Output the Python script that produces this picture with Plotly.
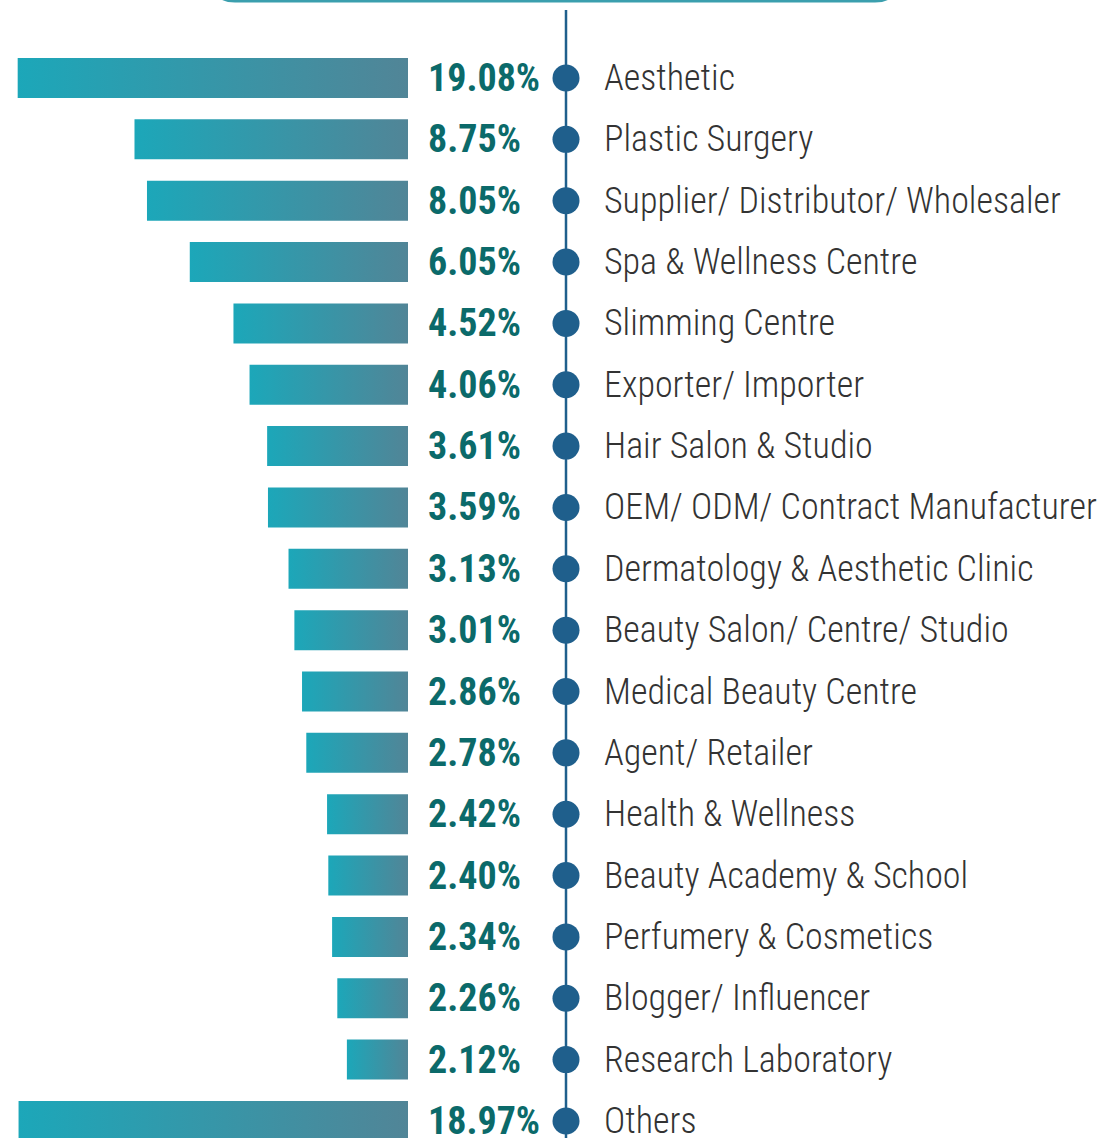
import math
import plotly.graph_objects as go

categories = [
    "Aesthetic", "Plastic Surgery", "Supplier/ Distributor/ Wholesaler",
    "Spa & Wellness Centre", "Slimming Centre", "Exporter/ Importer",
    "Hair Salon & Studio", "OEM/ ODM/ Contract Manufacturer",
    "Dermatology & Aesthetic Clinic", "Beauty Salon/ Centre/ Studio",
    "Medical Beauty Centre", "Agent/ Retailer", "Health & Wellness",
    "Beauty Academy & School", "Perfumery & Cosmetics",
    "Blogger/ Influencer", "Research Laboratory", "Others",
]
shares = [19.08, 8.75, 8.05, 6.05, 4.52, 4.06, 3.61, 3.59, 3.13, 3.01,
          2.86, 2.78, 2.42, 2.40, 2.34, 2.26, 2.12, 18.97]

W, H = 1110, 1138
BASE = 1.41            # log-axis origin of the bars
ROW_PX = 61.35
TOP_PX = 78
BAR_RIGHT = 408
PX_PER_DECADE = 345
HALF = 20 / ROW_PX

TEAL = "#1ca7b9"
GREY = "#518597"
PCT_COLOR = "#0b6a6a"
LABEL_COLOR = "#333333"
DOT_COLOR = "#1f5f8c"
FONT = "Roboto Condensed, Liberation Sans Narrow, Arial Narrow, Roboto, sans-serif"

fig = go.Figure()
n = len(categories)
for i, v in enumerate(shares):
    fig.add_trace(go.Scatter(
        x=[BASE, v, v, BASE, BASE],
        y=[i - HALF, i - HALF, i + HALF, i + HALF, i - HALF],
        mode="lines", line=dict(width=0), fill="toself",
        fillgradient=dict(type="horizontal",
                          colorscale=[[0, TEAL], [1, GREY]]),
        hoverinfo="skip", showlegend=False, xaxis="x", yaxis="y",
    ))

fig.add_trace(go.Scatter(
    x=[0] * n, y=list(range(n)), mode="markers",
    marker=dict(size=27, color=DOT_COLOR, line=dict(width=0)),
    cliponaxis=False,
    hoverinfo="skip", showlegend=False, xaxis="x2", yaxis="y",
))

annotations = []
for i, (c, v) in enumerate(zip(categories, shares)):
    annotations.append(dict(
        x=426 / W, xref="paper", y=i, yref="y", xanchor="left", yanchor="middle",
        text=f"<b>{v:.2f}%</b>", showarrow=False,
        font=dict(family=FONT, size=38, color=PCT_COLOR)))
    annotations.append(dict(
        x=602 / W, xref="paper", y=i, yref="y", xanchor="left", yanchor="middle",
        text=c, showarrow=False,
        font=dict(family=FONT, size=36, color=LABEL_COLOR, weight=300)))

y0 = -TOP_PX / ROW_PX
y1 = y0 + H / ROW_PX
hi = BASE * 10 ** (BAR_RIGHT / PX_PER_DECADE)


def px(x):
    return x / W


def py(y):
    return 1 - y / H


# top rounded box (only its bottom edge is inside the picture)
r = 22
bx0, bx1, by = 213, 897, 1
box_path = (f"M {px(bx0)},{py(-60)} L {px(bx0)},{py(by - r)} "
            f"Q {px(bx0)},{py(by)} {px(bx0 + r)},{py(by)} "
            f"L {px(bx1 - r)},{py(by)} "
            f"Q {px(bx1)},{py(by)} {px(bx1)},{py(by - r)} "
            f"L {px(bx1)},{py(-60)}")

shapes = [
    dict(type="line", xref="paper", yref="paper", x0=566 / W, x1=566 / W,
         y0=0, y1=1 - 10 / H, line=dict(color=DOT_COLOR, width=2.5), layer="below"),
    dict(type="path", xref="paper", yref="paper", path=box_path,
         line=dict(color="#3b9fae", width=3)),
]

fig.update_layout(
    width=W, height=H, margin=dict(l=0, r=0, t=0, b=0),
    paper_bgcolor="white", plot_bgcolor="rgba(0,0,0,0)",
    xaxis=dict(domain=[0, BAR_RIGHT / W], type="log",
               range=[math.log10(hi), math.log10(BASE)], visible=False, fixedrange=True),
    xaxis2=dict(domain=[536 / W, 596 / W], range=[-1, 1], visible=False, anchor="y"),
    yaxis=dict(range=[y1, y0], visible=False, domain=[0, 1]),
    annotations=annotations, shapes=shapes, showlegend=False,
)

fig.write_html("out.html")
